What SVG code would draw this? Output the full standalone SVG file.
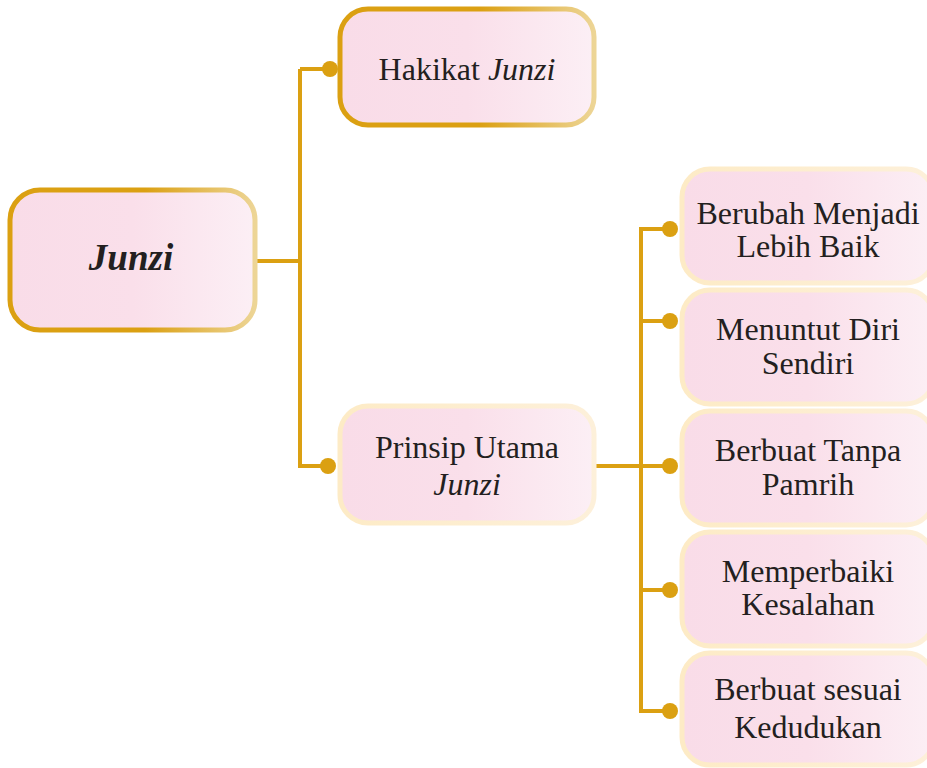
<svg xmlns="http://www.w3.org/2000/svg" width="927" height="768" viewBox="0 0 927 768">
<defs>
<linearGradient id="fill" x1="0" y1="0" x2="1" y2="0">
<stop offset="0" stop-color="#F9DCE8"/>
<stop offset="0.5" stop-color="#FADFEA"/>
<stop offset="1" stop-color="#FCEFF5"/>
</linearGradient>
<linearGradient id="goldStroke" x1="0" y1="0" x2="1" y2="0">
<stop offset="0" stop-color="#DBA012"/>
<stop offset="0.55" stop-color="#DBA012"/>
<stop offset="1" stop-color="#EDD596"/>
</linearGradient>
<linearGradient id="lightStroke" x1="0" y1="0" x2="1" y2="0">
<stop offset="0" stop-color="#FDEBC6"/>
<stop offset="1" stop-color="#FDF0DA"/>
</linearGradient>
<style>
.gold{fill:url(#fill);stroke:url(#goldStroke);stroke-width:5}
.light{fill:url(#fill);stroke:url(#lightStroke);stroke-width:5}
.t{font-family:"Liberation Serif","Times New Roman",serif;font-size:32px;fill:#231F20;text-anchor:middle}
.i{font-style:italic}
.main{font-family:"Liberation Serif","Times New Roman",serif;font-size:37px;font-weight:bold;font-style:italic;fill:#231F20;text-anchor:middle}
.ln{stroke:#DBA012;stroke-width:4;fill:none}
.dot{fill:#DBA012}
</style>
</defs>
<g id="connectors">
<path class="ln" d="M257 261 H300 M300 69 V468 M300 69 H330 M300 466 H328"/>
<path class="ln" d="M596 466 H670 M641 227 V713 M641 229 H670 M641 321 H670 M641 590 H670 M641 711 H670"/>
<circle class="dot" cx="330" cy="69" r="8"/>
<circle class="dot" cx="328" cy="466" r="8"/>
<circle class="dot" cx="670" cy="229" r="8"/>
<circle class="dot" cx="670" cy="321" r="8"/>
<circle class="dot" cx="670" cy="466" r="8"/>
<circle class="dot" cx="670" cy="590" r="8"/>
<circle class="dot" cx="670" cy="711" r="8"/>
</g>
<g id="junzi">
<rect class="gold" x="10" y="190" width="245" height="140" rx="30"/>
<text class="main" x="131" y="270">Junzi</text>
</g>
<g id="hakikat">
<rect class="gold" x="340" y="9" width="254" height="116" rx="28"/>
<text class="t" x="467" y="80">Hakikat <tspan class="i">Junzi</tspan></text>
</g>
<g id="prinsip">
<rect class="light" x="340" y="406" width="254" height="117" rx="28"/>
<text class="t" x="467" y="458">Prinsip Utama</text>
<text class="t i" x="467" y="495">Junzi</text>
</g>
<g id="berubah">
<rect class="light" x="682" y="169" width="252" height="114" rx="28"/>
<text class="t" x="808" y="224">Berubah Menjadi</text>
<text class="t" x="808" y="257">Lebih Baik</text>
</g>
<g id="menuntut">
<rect class="light" x="682" y="290" width="252" height="114" rx="28"/>
<text class="t" x="808" y="340">Menuntut Diri</text>
<text class="t" x="808" y="374">Sendiri</text>
</g>
<g id="tanpa-pamrih">
<rect class="light" x="682" y="411" width="252" height="114" rx="28"/>
<text class="t" x="808" y="461">Berbuat Tanpa</text>
<text class="t" x="808" y="495">Pamrih</text>
</g>
<g id="memperbaiki">
<rect class="light" x="682" y="532" width="252" height="114" rx="28"/>
<text class="t" x="808" y="582">Memperbaiki</text>
<text class="t" x="808" y="615">Kesalahan</text>
</g>
<g id="kedudukan">
<rect class="light" x="682" y="653" width="252" height="112" rx="28"/>
<text class="t" x="808" y="700">Berbuat sesuai</text>
<text class="t" x="808" y="738">Kedudukan</text>
</g>
</svg>
